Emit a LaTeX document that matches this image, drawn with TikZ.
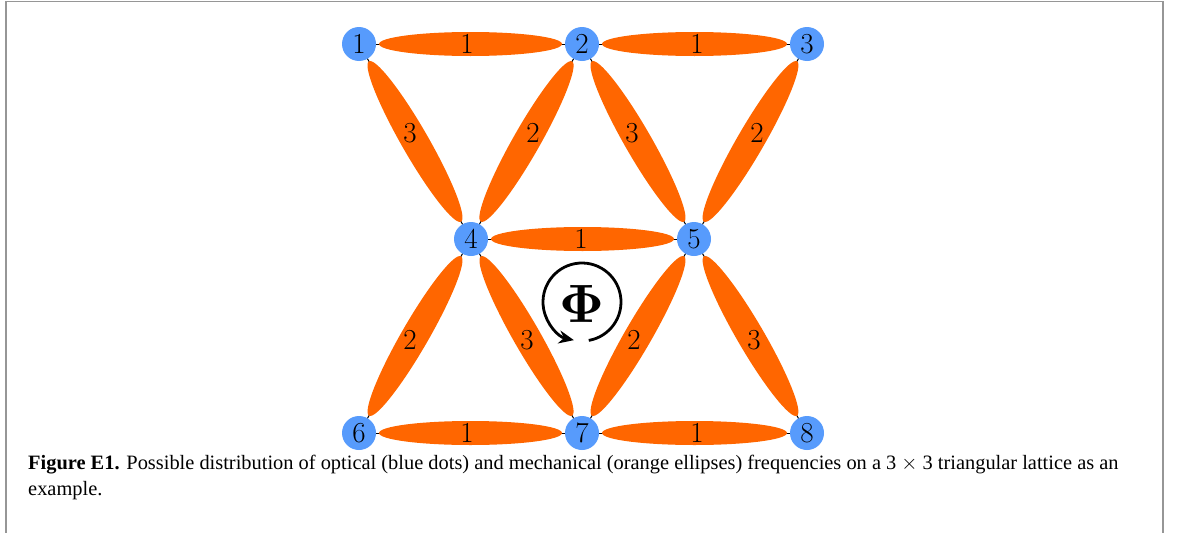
\documentclass[tikz,border=0pt]{standalone}
\usepackage[no-math]{fontspec}
\newfontfamily\capfont{Liberation Serif}
\usetikzlibrary{shapes.geometric,calc,arrows.meta}
\definecolor{nodeblue}{RGB}{87,155,252}
\definecolor{linkorange}{RGB}{255,102,0}
\definecolor{framegray}{RGB}{150,150,150}
\pgfdeclarelayer{bg}
\pgfsetlayers{bg,main}
\newcommand\mybond[4]{%
  \draw[wire] (#1.center) -- (#2.center);
  \path let \p1=(#1.center), \p2=(#2.center),
    \n1={atan2(\y2-\y1,\x2-\x1)}, \n2={veclen(\x2-\x1,\y2-\y1)} in
    node[link, minimum width={\n2*1pt-40pt}, minimum height=#4, rotate=\n1]
      (#3) at ($(#1.center)!0.5!(#2.center)$) {};
}
\begin{document}
\begin{tikzpicture}[x=1pt,y=-1pt,
  site/.style={circle,fill=nodeblue,minimum size=34pt,inner sep=0pt,font=\fontsize{29}{29}\selectfont},
  link/.style={ellipse,fill=linkorange,inner sep=0pt,draw=none},
  lbl/.style={inner sep=0pt,font=\fontsize{29}{29}\selectfont},
  wire/.style={draw=black,line width=1pt},
  capline/.style={anchor=base west,inner sep=0pt,font=\capfont\fontsize{20.4}{26}\selectfont}]
\useasboundingbox (0,0) rectangle (1179,533);
\draw[framegray,line width=1.5pt] (6,533) -- (6,1.5) -- (1163,1.5) -- (1163,533);
% sites
\node[site] (n1) at (359,44) {1};
\node[site] (n2) at (582,44) {2};
\node[site] (n3) at (807,44) {3};
\node[site] (n4) at (471,239) {4};
\node[site] (n5) at (694,239) {5};
\node[site] (n6) at (359,433) {6};
\node[site] (n7) at (582,433) {7};
\node[site] (n8) at (807,433) {8};
% bonds
\begin{pgfonlayer}{bg}
\mybond{n1}{n2}{e12}{24pt}
\mybond{n2}{n3}{e23}{24pt}
\mybond{n4}{n5}{e45}{24pt}
\mybond{n6}{n7}{e67}{24pt}
\mybond{n7}{n8}{e78}{24pt}
\mybond{n1}{n4}{e14}{27pt}
\mybond{n2}{n4}{e24}{27pt}
\mybond{n2}{n5}{e25}{27pt}
\mybond{n3}{n5}{e35}{27pt}
\mybond{n4}{n6}{e46}{27pt}
\mybond{n4}{n7}{e47}{27pt}
\mybond{n5}{n7}{e57}{27pt}
\mybond{n5}{n8}{e58}{27pt}
\end{pgfonlayer}
% labels
\node[lbl] (l12) at (467,44) {1};
\node[lbl] (l23) at (697,44) {1};
\node[lbl] (l45) at (581,239) {1};
\node[lbl] (l67) at (467,433) {1};
\node[lbl] (l78) at (697,433) {1};
\node[lbl] (l14) at (410,133) {3};
\node[lbl] (l24) at (533,133) {2};
\node[lbl] (l25) at (632,133) {3};
\node[lbl] (l35) at (757,133) {2};
\node[lbl] (l46) at (410,340) {2};
\node[lbl] (l47) at (527,340) {3};
\node[lbl] (l57) at (634,340) {2};
\node[lbl] (l58) at (754,340) {3};
% flux
\coordinate (loop) at (582,302);
\node[inner sep=0pt,scale=5.4] (phi) at (582,304) {$\mathbf{\Phi}$};
\draw[line width=2.8pt,-{Stealth[length=15pt,width=13pt]}]
  ($(loop)+(-80:39pt)$) arc[start angle=-80,end angle=258,radius=39pt];
% caption
\node[capline] (cap1) at (28,469) {\textbf{Figure E1.} Possible distribution of optical (blue dots) and mechanical (orange ellipses) frequencies on a 3 $\times$ 3 triangular lattice as an};
\node[capline] (cap2) at (28,495) {example.};
\end{tikzpicture}
\end{document}
